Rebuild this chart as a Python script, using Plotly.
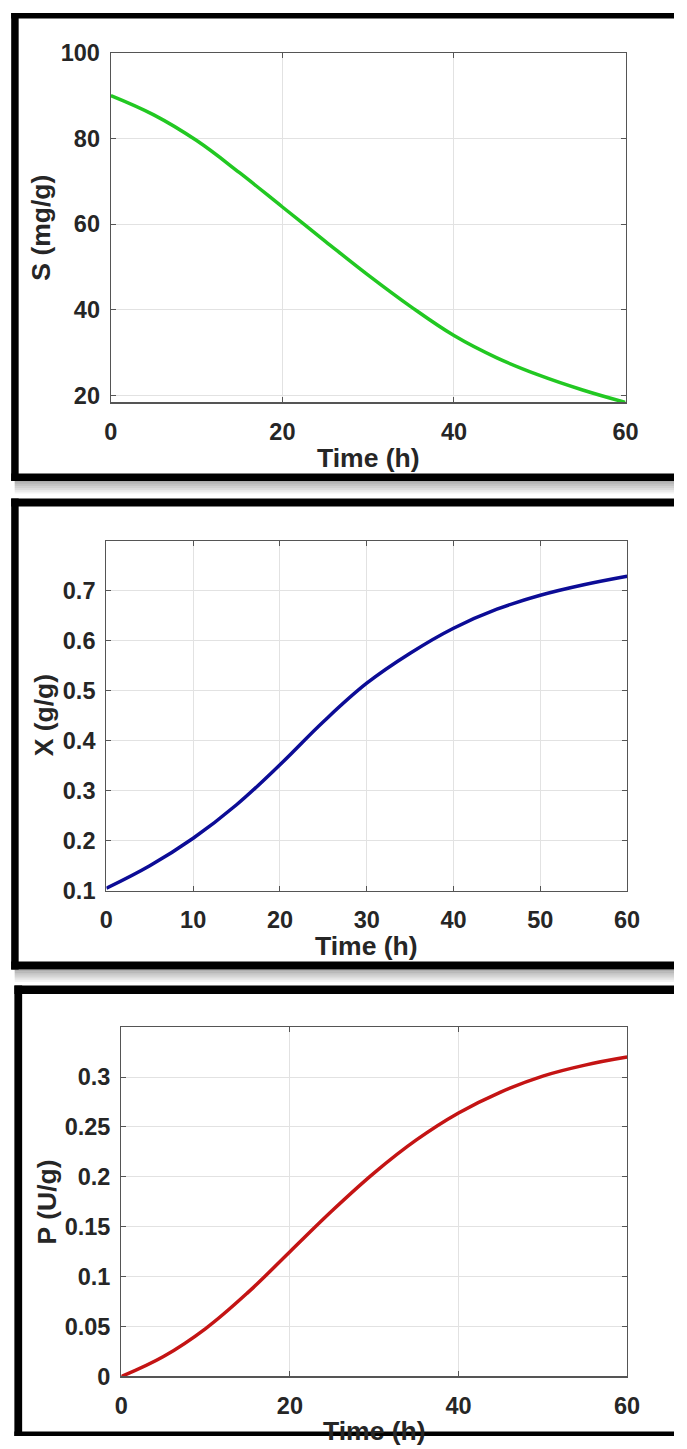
import plotly.graph_objects as go

# Simulated fermentation profiles (substrate, biomass, product) over 60 h
time_h = [0, 5, 10, 15, 20, 25, 30, 35, 40, 45, 50, 55, 60]
substrate = [90.0, 85.5, 79.5, 72.0, 64.0, 56.0, 48.1, 40.7, 34.0, 28.8, 24.7, 21.3, 18.4]
biomass = [0.105, 0.150, 0.205, 0.272, 0.352, 0.438, 0.515, 0.575, 0.625, 0.663, 0.691, 0.712, 0.729]
product = [0.000, 0.020, 0.048, 0.084, 0.125, 0.166, 0.204, 0.237, 0.264, 0.285, 0.301, 0.312, 0.320]

y_titles = ["S (mg/g)", "X (g/g)", "P (U/g)"]
x_title = "Time (h)"
s_ticks = [20, 40, 60, 80, 100]
x_ticks_main = [0, 10, 20, 30, 40, 50, 60]
x_ticks_coarse = [0, 20, 40, 60]
biomass_ticks = [0.1, 0.2, 0.3, 0.4, 0.5, 0.6, 0.7]
product_ticks = [0, 0.05, 0.1, 0.15, 0.2, 0.25, 0.3]

W, H = 687, 1449

# placement of the figure inside the window as it is displayed
# (window pixel = scale * figure pixel + offset)
SX, OX = 0.974, 5.3
SY, OY = 0.982, 11.6


def fx(x):
    return min(max((x - OX) / SX, 0.0), W)


def fy(y):
    return min(max((y - OY) / SY, 0.0), H)


def px(x):
    return fx(x) / W


def py(y):
    return 1 - fy(y) / H


FONT = "Liberation Sans, Arial, sans-serif"
TICK_FONT = dict(family=FONT, size=23.5, color="#262626", weight="bold")
TITLE_FONT = dict(family=FONT, size=26.5, color="#262626", weight="bold")

# panel layout: plot box (left, right, top, bottom) in window pixels
panels = [
    dict(box=(109.5, 625.8, 51.3, 401.0), yrange=[18.4, 100], yticks=s_ticks,
         xticks=x_ticks_coarse, color="#22c822", y=substrate,
         ytitle_x=38.5, xtitle_y=457),
    dict(box=(105.0, 627.4, 539.3, 889.3), yrange=[0.1, 0.8], yticks=biomass_ticks,
         xticks=x_ticks_main, color="#0c0c96", y=biomass,
         ytitle_x=42, xtitle_y=945),
    dict(box=(120.0, 627.4, 1025.7, 1375.0), yrange=[0, 0.35], yticks=product_ticks,
         xticks=x_ticks_coarse, color="#c41414", y=product,
         ytitle_x=45, xtitle_y=1430),
]

fig = go.Figure()
layout = dict(
    width=W, height=H, margin=dict(l=0, r=0, t=0, b=0),
    paper_bgcolor="white", plot_bgcolor="white", showlegend=False,
    dragmode=False,
)
annotations = []
shapes = []

for i, p in enumerate(panels):
    n = "" if i == 0 else str(i + 1)
    l, r, t, b = p["box"]
    fig.add_trace(go.Scatter(
        x=time_h, y=p["y"], mode="lines",
        line=dict(color=p["color"], width=3.5, shape="spline", smoothing=1.1),
        xaxis="x" + n, yaxis="y" + n, hoverinfo="skip",
    ))
    common = dict(
        showline=True, linecolor="#555555", linewidth=1.2, mirror="ticks",
        ticks="inside", ticklen=5, tickcolor="#555555", tickwidth=1,
        showgrid=True, gridcolor="#e2e2e2", gridwidth=1,
        zeroline=False, tickfont=TICK_FONT, fixedrange=True,
    )
    layout["xaxis" + n] = dict(
        common, domain=[px(l), px(r)], anchor="y" + n, range=[0, 60],
        tickvals=p["xticks"], ticklabelstandoff=8,
    )
    layout["yaxis" + n] = dict(
        common, domain=[py(b), py(t)], anchor="x" + n, range=p["yrange"],
        tickvals=p["yticks"], ticklabelstandoff=5,
    )
    annotations.append(dict(
        text=y_titles[i], textangle=-90, showarrow=False,
        xref="paper", yref="paper", x=px(p["ytitle_x"]), y=py((t + b) / 2),
        xanchor="center", yanchor="middle", font=TITLE_FONT,
    ))
    annotations.append(dict(
        text=x_title, showarrow=False,
        xref="paper", yref="paper", x=px((l + r) / 2), y=py(p["xtitle_y"]),
        xanchor="center", yanchor="middle", font=TITLE_FONT,
    ))


def rect(x0, x1, y0, y1, color, opacity=1.0):
    shapes.append(dict(
        type="rect", xref="paper", yref="paper", layer="above",
        x0=px(x0), x1=px(x1), y0=py(y1), y1=py(y0),
        fillcolor=color, line=dict(width=0), opacity=opacity,
    ))


# black picture frames (open on the right) with soft drop shadows
frames = [
    dict(left=(9.5, 17.0), top=(9.5, 17.0), bottom=(472.0, 479.5), shadow=True),
    dict(left=(9.5, 17.0), top=(497.0, 505.0), bottom=(960.0, 968.0), shadow=True),
    dict(left=(12.7, 20.5), top=(984.0, 992.5), bottom=(1430.0, 1460.0), shadow=False),
]
RIGHT = 700
for f in frames:
    if f["shadow"]:
        y0 = f["bottom"][1]
        for k in range(7):
            rect(13, RIGHT, y0 + k * 1.8, y0 + (k + 1) * 1.8, "#000000",
                 opacity=0.32 * (1 - k / 7))
    rect(f["left"][0], f["left"][1], f["top"][0], f["bottom"][1], "#000000")
    rect(f["left"][0], RIGHT, f["top"][0], f["top"][1], "#000000")
    rect(f["left"][0], RIGHT, f["bottom"][0], f["bottom"][1], "#000000")

layout["annotations"] = annotations
layout["shapes"] = shapes
fig.update_layout(**layout)

# page without default body margin so the figure fills the window
page_js = (
    "document.body.style.margin='0';"
    "document.documentElement.style.overflow='hidden';"
    "document.body.style.overflow='hidden';"
)
fig.write_html("out.html", post_script=page_js,
               config={"staticPlot": True, "displayModeBar": False})
